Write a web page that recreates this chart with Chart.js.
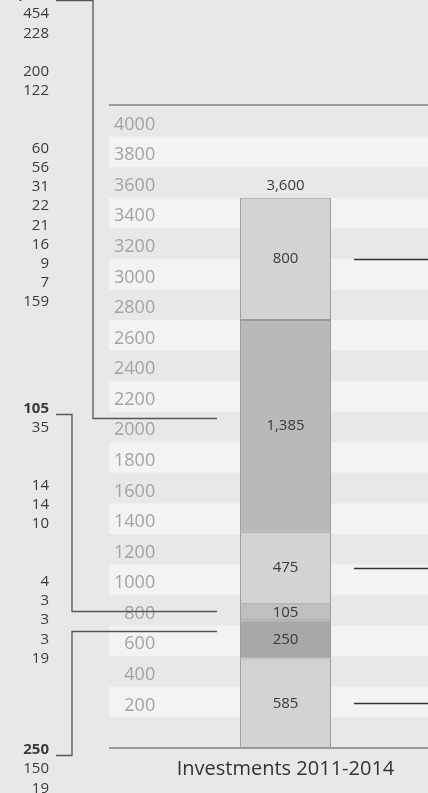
<!DOCTYPE html>
<html>
<head>
<meta charset="utf-8">
<script src="https://cdn.jsdelivr.net/npm/chart.js@4.4.1/dist/chart.umd.min.js"></script>
<style>
  html, body { margin: 0; padding: 0; background: #e8e8e8; overflow: hidden; }
  #wrap { width: 428px; height: 793px; overflow: hidden; }
  canvas { display: block; }
</style>
</head>
<body>
<div id="wrap"><canvas id="myChart" width="462" height="793"></canvas></div>
<script>
// stacked segments, bottom to top
var category = ['2011-2014'];
var segmentValues = [585, 250, 105, 475, 1385, 800];
var segmentColors = ['#d3d3d3', '#a8a8a8', '#bfbfbf', '#d3d3d3', '#b9b9b9', '#d3d3d3'];
var chartTitle = 'Investments 2011-2014';

// y axis
var yMin = 0, yMax = 4200, yStep = 200;

// breakdowns listed down the left side
var split1385 = [[454, 228], [200, 122], [60, 56, 31, 22, 21, 16, 9, 7, 159]];
var split105 = [[35], [14, 14, 10], [4, 3, 3, 3, 19]];
var split250 = [[150, 19]];

// segments with a leader line going off to the right
var rightLeaders = [5, 3, 0];

var fmt = function (v) { return v.toLocaleString('en-US'); };
var total = segmentValues.reduce(function (a, b) { return a + b; }, 0);

// where the left lists sit and where their brackets aim (in y values)
var lists = [
    { seg: 4, split: split1385, top: -5, gaps: [1, 2], elbow: 93, aim: 2160 },
    { seg: 2, split: split105, top: 409, gaps: [2, 2], elbow: 72, aim: 895 },
    { seg: 1, split: split250, top: 750, gaps: [], elbow: 72, aim: 765 }
];
var rowH = 19.2;

var stripes = {
    id: 'stripes',
    beforeDraw: function (chart) {
        var ctx = chart.ctx, area = chart.chartArea, y = chart.scales.y;
        ctx.save();
        ctx.fillStyle = '#f3f3f3';
        for (var v = yMin; v < yMax; v += yStep) {
            if ((v / yStep) % 2 === 1) {
                var t = y.getPixelForValue(v + yStep), b = y.getPixelForValue(v);
                ctx.fillRect(area.left, t, area.right - area.left, b - t);
            }
        }
        ctx.strokeStyle = '#9a9a9a';
        ctx.lineWidth = 2;
        ctx.beginPath();
        ctx.moveTo(area.left, y.getPixelForValue(yMax) - 1);
        ctx.lineTo(area.right, y.getPixelForValue(yMax) - 1);
        ctx.moveTo(area.left, y.getPixelForValue(yMin));
        ctx.lineTo(area.right, y.getPixelForValue(yMin));
        ctx.stroke();
        ctx.restore();
    }
};

var segLabels = {
    id: 'segLabels',
    afterDatasetsDraw: function (chart) {
        var ctx = chart.ctx;
        ctx.save();
        ctx.font = '15px "Open Sans"';
        ctx.fillStyle = '#3a3a3a';
        ctx.textAlign = 'center';
        ctx.textBaseline = 'middle';
        var topBar;
        chart.data.datasets.forEach(function (ds, i) {
            var bar = chart.getDatasetMeta(i).data[0];
            ctx.fillText(fmt(ds.data[0]), bar.x, (bar.y + bar.base) / 2);
            topBar = bar;
        });
        ctx.fillText(fmt(total), topBar.x, topBar.y - 12);
        ctx.restore();
    }
};

var leaders = {
    id: 'leaders',
    afterDraw: function (chart) {
        var ctx = chart.ctx, y = chart.scales.y;
        var bar = chart.getDatasetMeta(0).data[0];
        var barLeft = bar.x - bar.width / 2, barRight = bar.x + bar.width / 2;
        ctx.save();

        // right side
        ctx.strokeStyle = '#333';
        ctx.lineWidth = 1.3;
        rightLeaders.forEach(function (i) {
            var b = chart.getDatasetMeta(i).data[0];
            var py = Math.round((b.y + b.base) / 2) + 0.5;
            ctx.beginPath();
            ctx.moveTo(barRight + 23, py);
            ctx.lineTo(chart.width, py);
            ctx.stroke();
        });

        // left lists and brackets
        ctx.textAlign = 'right';
        ctx.textBaseline = 'middle';
        ctx.fillStyle = '#3a3a3a';
        lists.forEach(function (l) {
            ctx.font = 'bold 15px "Open Sans"';
            ctx.fillText(fmt(segmentValues[l.seg]), 49, l.top);
            ctx.font = '15px "Open Sans"';
            var row = 1;
            l.split.forEach(function (grp, gi) {
                if (gi > 0) row += l.gaps[gi - 1];
                grp.forEach(function (v) {
                    ctx.fillText(fmt(v), 49, l.top + row * rowH);
                    row++;
                });
            });
            var y0 = Math.round(l.top + 5) + 0.5;
            var y1 = Math.round(y.getPixelForValue(l.aim)) + 0.5;
            ctx.strokeStyle = '#555';
            ctx.lineWidth = 1.3;
            ctx.beginPath();
            ctx.moveTo(56, y0);
            ctx.lineTo(l.elbow, y0);
            ctx.lineTo(l.elbow, y1);
            ctx.lineTo(barLeft - 23, y1);
            ctx.stroke();
        });
        ctx.restore();
    }
};

Chart.defaults.font.family = '"Open Sans", sans-serif';

var ctx = document.getElementById('myChart').getContext('2d');
var myChart = new Chart(ctx, {
    type: 'bar',
    data: {
        labels: category,
        datasets: segmentValues.map(function (v, i) {
            return {
                label: fmt(v),
                data: [v],
                backgroundColor: segmentColors[i],
                borderColor: '#999',
                borderWidth: 1,
                borderSkipped: false,
                categoryPercentage: 1,
                barPercentage: 0.258
            };
        })
    },
    options: {
        responsive: false,
        animation: false,
        layout: { padding: { left: 99, top: 106, right: 0, bottom: 0 } },
        plugins: {
            legend: { display: false },
            tooltip: { enabled: false },
            title: {
                display: true,
                text: chartTitle,
                position: 'bottom',
                fullSize: false,
                color: '#333',
                font: { size: 20, weight: 'normal' },
                padding: { top: 9, bottom: 12 }
            }
        },
        scales: {
            x: { stacked: true, display: false },
            y: {
                stacked: true,
                min: yMin,
                max: yMax,
                grid: { display: false, drawTicks: false },
                border: { display: false },
                ticks: {
                    stepSize: yStep,
                    mirror: true,
                    crossAlign: 'far',
                    padding: 5,
                    labelOffset: -12,
                    color: '#a3a3a3',
                    font: { size: 18 },
                    callback: function (v) { return (v === yMin || v === yMax) ? '' : String(v); }
                }
            }
        }
    },
    plugins: [stripes, segLabels, leaders]
});
</script>
</body>
</html>
